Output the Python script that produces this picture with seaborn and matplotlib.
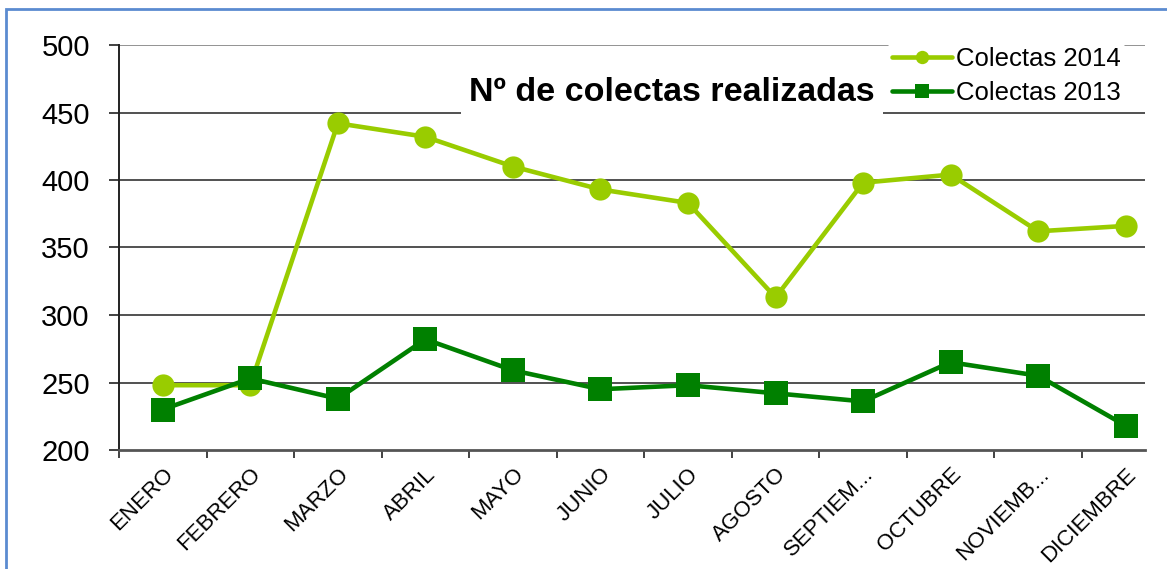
import numpy as np
import pandas as pd
import seaborn as sns
import matplotlib.pyplot as plt
from matplotlib.patches import Rectangle

# Data
meses = ['ENERO', 'FEBRERO', 'MARZO', 'ABRIL', 'MAYO', 'JUNIO', 'JULIO',
         'AGOSTO', 'SEPTIEM...', 'OCTUBRE', 'NOVIEMB...', 'DICIEMBRE']
colectas_2014 = [248, 248, 442, 432, 410, 393, 383, 313, 398, 404, 362, 366]
colectas_2013 = [230, 253, 238, 282, 259, 245, 248, 242, 236, 265, 255, 218]

sns.set_style('white')
plt.rcParams['font.family'] = ['Liberation Sans', 'DejaVu Sans']
plt.rcParams['text.color'] = 'black'
plt.rcParams['xtick.color'] = 'black'
plt.rcParams['ytick.color'] = 'black'

fig = plt.figure(figsize=(11.67, 5.69), dpi=100)
ax = fig.add_axes([119/1167, 1 - 450/569, (1145 - 119)/1167, (450 - 45)/569])

df14 = pd.DataFrame({'mes': meses, 'valor': colectas_2014})
df13 = pd.DataFrame({'mes': meses, 'valor': colectas_2013})

sns.lineplot(data=df14, x='mes', y='valor', ax=ax, sort=False, color='#99CC00',
             linewidth=3.3, marker='o', markersize=16, markeredgewidth=0,
             label='Colectas 2014', zorder=3)
sns.lineplot(data=df13, x='mes', y='valor', ax=ax, sort=False, color='#008000',
             linewidth=3.3, marker='s', markersize=17, markeredgewidth=0,
             label='Colectas 2013', zorder=4)

ax.set_ylim(200, 500)
ax.set_yticks(np.arange(200, 501, 50))
ax.set_xlabel('')
ax.set_ylabel('')

# grid lines
for y in np.arange(250, 501, 50):
    ax.axhline(y, color='#333333' if y < 500 else '#808080', linewidth=1.2, zorder=0)

ax.set_xticks(np.arange(12))
ax.set_xticklabels(meses, rotation=45, ha='right', rotation_mode='anchor', fontsize=16)
ax.set_xticks(np.arange(-0.5, 11.0, 1), minor=True)
ax.set_xlim(-0.5, 11.22)
ax.tick_params(axis='x', which='major', length=0, pad=10)
ax.tick_params(axis='x', which='minor', length=6, width=1.3, color='#333333', direction='out')
ax.tick_params(axis='y', length=7, width=1.3, color='#333333', direction='out', labelsize=21, pad=14)
ax.yaxis.set_ticks_position('left')
ax.xaxis.set_ticks_position('bottom')

for s in ['top', 'right']:
    ax.spines[s].set_visible(False)
ax.spines['left'].set_color('#222222')
ax.spines['left'].set_linewidth(1.4)
ax.spines['bottom'].set_color('#555555')
ax.spines['bottom'].set_linewidth(2)

ax.text(0.539, 0.882, 'Nº de colectas realizadas', transform=ax.transAxes,
        ha='center', va='center', fontsize=24.5, fontweight='bold', zorder=5,
        bbox=dict(facecolor='white', edgecolor='none', pad=6))

leg = ax.legend(loc='upper left', bbox_to_anchor=(0.737, 1.037), fontsize=18.5,
                frameon=True, facecolor='white', edgecolor='none', framealpha=1,
                handlelength=2.35, handletextpad=0.15, borderpad=0.15, labelspacing=0.4,
                markerscale=0.6)
leg.set_zorder(6)

# blue outer border
fig.patches.append(Rectangle((6/1167, -0.1), 1.5, 1 - 9/569 + 0.1, transform=fig.transFigure,
                             fill=False, edgecolor='#5B8BD0', linewidth=2))

fig.savefig('out.png', dpi=100)
